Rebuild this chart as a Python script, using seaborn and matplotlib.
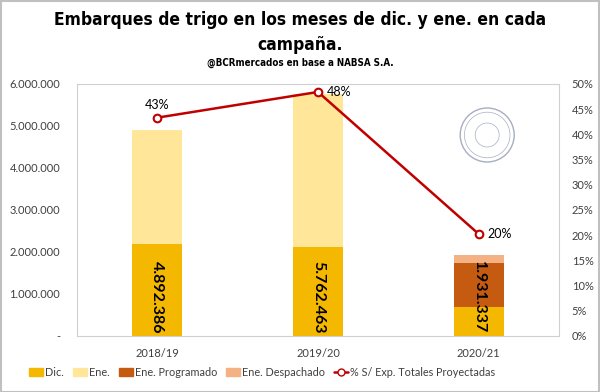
import numpy as np
import pandas as pd
import matplotlib
matplotlib.use("Agg")
import matplotlib.pyplot as plt
import matplotlib.patches as mpatches
from matplotlib.lines import Line2D
from matplotlib.ticker import FuncFormatter, MultipleLocator
import seaborn as sns

# datos
campanias = ["2018/19", "2019/20", "2020/21"]
dic = [2190000, 2120000, 690000]
ene = [2702386, 3642463, 0]
ene_programado = [0, 0, 1050000]
ene_despachado = [0, 0, 191337]
totales = [4892386, 5762463, 1931337]
pct_exp = [0.433, 0.484, 0.202]

series = ["Dic.", "Ene.", "Ene. Programado", "Ene. Despachado"]
colores = ["#F5B800", "#FFE699", "#C55A11", "#F4B183"]
color_linea = "#C00000"

sns.set_theme(style="white")
plt.rcParams["font.family"] = ["Lato", "DejaVu Sans"]

df = pd.DataFrame({
    "campania": campanias,
    "Dic.": dic,
    "Ene.": ene,
    "Ene. Programado": ene_programado,
    "Ene. Despachado": ene_despachado,
})
# acumulados para apilar (se dibuja de arriba hacia abajo)
acum = df[series].cumsum(axis=1)
acum["campania"] = campanias

fig = plt.figure(figsize=(6, 3.92), dpi=100)
ax = fig.add_axes([0.128, 0.143, 0.804, 0.643])

for serie, color in reversed(list(zip(series, colores))):
    sns.barplot(data=acum, x="campania", y=serie, color=color, width=0.31,
                saturation=1, ax=ax, edgecolor="none")

ax.set_ylim(0, 6000000)
ax.set_xlim(-0.5, 2.5)
ax.yaxis.set_major_locator(MultipleLocator(1000000))
ax.yaxis.set_major_formatter(FuncFormatter(
    lambda v, p: "-" if v == 0 else f"{v:,.0f}".replace(",", ".")))
ax.set_xlabel("")
ax.set_ylabel("")
ax.tick_params(axis="y", length=0, pad=12, labelsize=8, labelcolor="#404040")
ax.tick_params(axis="x", length=0, pad=9, labelsize=8, labelcolor="#404040")
for s in ax.spines.values():
    s.set_color("#d0d0d0")
    s.set_linewidth(0.8)

# etiquetas de totales dentro de la barra
for i, tot in enumerate(totales):
    ax.annotate(f"{tot:,.0f}".replace(",", "."), xy=(i, 0), xytext=(0, 2),
                textcoords="offset points", rotation=270, ha="center", va="bottom",
                fontsize=11.5, fontweight="bold", color="black")

# eje secundario con el porcentaje
ax2 = ax.twinx()
sns.lineplot(x=np.arange(len(campanias)), y=pct_exp, ax=ax2, color=color_linea,
             linewidth=1.8, marker="o", markersize=5.5, markerfacecolor="white",
             markeredgecolor=color_linea, markeredgewidth=1.5)
ax2.set_ylim(0, 0.5)
ax2.set_xlim(-0.5, 2.5)
ax2.yaxis.set_major_locator(MultipleLocator(0.05))
ax2.yaxis.set_major_formatter(FuncFormatter(lambda v, p: f"{v * 100:.0f}%"))
ax2.tick_params(axis="y", length=0, pad=9, labelsize=8, labelcolor="#404040")
for s in ax2.spines.values():
    s.set_visible(False)

offsets = [(0, 5, "center", "bottom"), (6, 0, "left", "center"), (6, 0, "left", "center")]
for i, (p, (dx, dy, ha, va)) in enumerate(zip(pct_exp, offsets)):
    ax2.annotate(f"{p * 100:.0f}%", xy=(i, p), xytext=(dx, dy), textcoords="offset points",
                 ha=ha, va=va, fontsize=9, color="black")

# sello (decorativo)
for r, lw in [(0.045, 1.0), (0.038, 0.5), (0.02, 0.5)]:
    fig.add_artist(mpatches.Ellipse((0.812, 1 - 135 / 392), 2 * r, 2 * r * 600 / 392,
                                    transform=fig.transFigure, fill=False,
                                    edgecolor="#a7aec0", linewidth=lw))

# títulos
titulo_font = ["DejaVu Sans"]
fig.text(0.5, 1 - 20 / 392, "Embarques de trigo en los meses de dic. y ene. en cada",
         ha="center", va="center", fontsize=12.5, fontweight="bold", family=titulo_font,
         fontstretch="condensed", color="black")
fig.text(0.5, 1 - 45 / 392, "campaña.", ha="center", va="center", fontsize=12.5,
         fontweight="bold", family=titulo_font, fontstretch="condensed", color="black")
fig.text(0.5, 1 - 63 / 392, "@BCRmercados en base a NABSA S.A.", ha="center", va="center",
         fontsize=7, fontweight="bold", family=titulo_font, fontstretch="condensed",
         color="black")

# leyenda
handles = [mpatches.Patch(color=c, label=s) for s, c in zip(series, colores)]
handles.append(Line2D([0], [0], color=color_linea, linewidth=1.8, marker="o",
                      markersize=5, markerfacecolor="white", markeredgecolor=color_linea,
                      label="% S/ Exp. Totales Proyectadas"))
fig.legend(handles=handles, loc="center", bbox_to_anchor=(0.437, 1 - 372 / 392), ncol=5,
           frameon=False, fontsize=7.8, handlelength=1.3, handleheight=0.7,
           handletextpad=0.2, columnspacing=0.8, labelcolor="#404040")

fig.add_artist(mpatches.Rectangle((0.001, 0.001), 0.997, 0.997, transform=fig.transFigure,
                                  fill=False, edgecolor="#c0c0c0", linewidth=1.5))

fig.savefig("out.png", dpi=100)
